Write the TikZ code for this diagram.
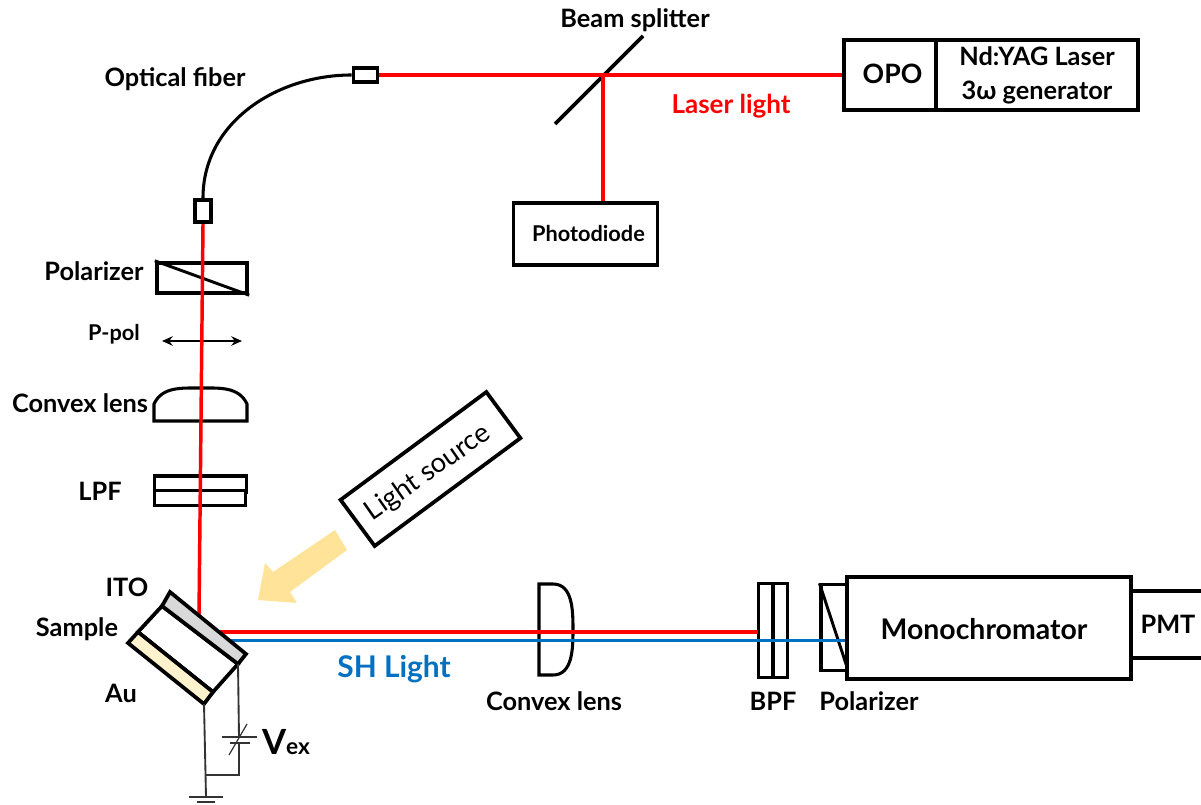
\documentclass[tikz,border=0pt]{standalone}
\usepackage{fontspec}
\setmainfont{Lato}
\usepackage{xcolor}
\usetikzlibrary{arrows.meta,calc}
\definecolor{sunlight}{HTML}{FFE399}
\definecolor{shblue}{HTML}{0070C0}
\definecolor{itogray}{HTML}{D9D9D9}
\definecolor{aucream}{HTML}{FFF2CC}
\tikzset{
	label text/.style={font=\bfseries\fontsize{19}{21}\selectfont, inner sep=0pt},
	small text/.style={font=\bfseries\fontsize{16.3}{18}\selectfont, inner sep=0pt},
	opt box/.style={draw, line width=2.8pt, inner sep=0pt, fill=white},
	thin box/.style={draw, line width=2.3pt, inner sep=0pt, fill=white},
	red beam/.style={red, line width=2.6pt},
	blue beam/.style={shblue, line width=2.2pt},
	wire/.style={line width=1.4pt, black!80}
}

\begin{document}
\begin{tikzpicture}[x=0.75pt,y=-0.75pt]
	\useasboundingbox (0,0) rectangle (1201,805);

	% Laser head and photodiode
	\node (opo) at (890,75) [opt box, minimum width=69pt, minimum height=53pt] {};
	\node (yag) at (1037,75) [opt box, minimum width=151.5pt, minimum height=53pt, align=center, font=\bfseries\fontsize{19}{25.5}\selectfont] {Nd:YAG Laser\\3ω generator};
	\node (photodiode) at (585.5,234) [opt box, minimum width=108pt, minimum height=46pt] {};

	% Fiber couplers
	\node (fiberA) at (365.5,75) [opt box, minimum width=18pt, minimum height=10pt] {};
	\node (fiberB) at (203,211) [opt box, minimum width=12pt, minimum height=17pt] {};
	\draw[line width=2.3pt] (fiberA.west) to[out=180,in=90] (fiberB.north);

	% Beam splitter
	\coordinate (splitA) at (555,124);
	\coordinate (splitB) at (643,36);
	\coordinate (split) at (603,76);
	\draw[line width=2.8pt] (splitA) -- (splitB);

	% Input optics
	\node (polin) at (202,278) [opt box, minimum width=68pt, minimum height=23pt] {};
	\draw[line width=2.2pt] (polin.north west) -- (polin.south east);
	\coordinate (ppolA) at (162,341);
	\coordinate (ppolB) at (242,341);
	\draw[{Stealth[length=8pt,width=7pt]}-{Stealth[length=8pt,width=7pt]}, line width=1.7pt] (ppolA) -- (ppolB);
	\draw[line width=2.3pt] (154,421) -- (154,404) to[out=65,in=180] (200,388) to[out=0,in=115] (247,404) -- (247,421) -- cycle;
	\node (lpfA) at (200.5,484) [thin box, minimum width=69pt, minimum height=12pt] {};
	\node (lpfB) at (200,498) [thin box, minimum width=68pt, minimum height=11pt] {};

	% Output optics
	\draw[line width=2.3pt] (539,584) -- (553,584) to[out=0,in=90] (573,630) to[out=-90,in=0] (553,675) -- (539,675) -- cycle;
	\node (bpfA) at (765.5,630.5) [thin box, minimum width=11pt, minimum height=70pt] {};
	\node (bpfB) at (780.5,630.5) [thin box, minimum width=11pt, minimum height=70pt] {};
	\node (polout) at (834,627.5) [thin box, minimum width=19.5pt, minimum height=64pt] {};
	\draw[line width=2.2pt] (polout.north west) -- (polout.south east);
	\node (mono) at (989,628) [opt box, minimum width=213pt, minimum height=76.5pt] {};
	\coordinate (pmtA) at (1201,591);
	\coordinate (pmtB) at (1201,658);
	\draw[line width=2.8pt] (pmtA) -- (pmtA -| mono.east);
	\draw[line width=2.8pt] (pmtB) -- (pmtB -| mono.east);

	% Beams
	\coordinate (hitV) at (199,615);
	\coordinate (hitR) at (218,632);
	\coordinate (hitB) at (230,640.5);
	\coordinate (endR) at (758,632);
	\coordinate (endB) at (845,640.5);
	\draw[red beam] (opo.west) -- (fiberA.east);
	\draw[red beam] (split) -- (split |- photodiode.north);
	\draw[red beam] (fiberB.south) -- (hitV);
	\draw[red beam] (hitR) -- (endR);
	\draw[blue beam] (hitB) -- (endB);

	% Sample
	\coordinate (itoA) at (170,592);
	\coordinate (itoB) at (246,654);
	\coordinate (itoC) at (238,664);
	\coordinate (itoD) at (162,606);
	\coordinate (auA) at (138,632);
	\coordinate (auB) at (213,692);
	\coordinate (auC) at (204,704);
	\coordinate (auD) at (128,643);
	\draw[line width=2.8pt, fill=white] (itoD) -- (itoC) -- (auB) -- (auA) -- cycle;
	\draw[line width=2.8pt, fill=itogray] (itoA) -- (itoB) -- (itoC) -- (itoD) -- cycle;
	\draw[line width=2.8pt, fill=aucream] (auA) -- (auB) -- (auC) -- (auD) -- cycle;

	% Bias circuit
	\coordinate (gnd) at (206,797);
	\coordinate (join) at (205,775);
	\coordinate (corner) at (239,775);
	\coordinate (capT) at (239,737);
	\coordinate (capB) at (239,743);
	\draw[wire] (auC) -- (gnd);
	\draw[wire] (itoC) -- (capT);
	\draw[wire] (capB) -- (corner) -- (join);
	\draw[wire] (222,737) -- (257,737);
	\draw[wire] (230,743) -- (250,743);
	\draw[line width=0.9pt, black!80] (247,724) -- (229,755);
	\draw[wire] (189,797) -- (223,797);
	\draw[wire] (197,802) -- (215,802);

	% Light source
	\fill[sunlight] (335,530) -- (273,572) -- (265,563) -- (258,600) -- (297,603) -- (290,592) -- (347,550) -- cycle;
	\node (lamp) at (430.5,469) [opt box, rotate=36.5, minimum width=136pt, minimum height=43pt] {};
	\node (lamplabel) at (428,473) [rotate=35, inner sep=0pt, font=\fontsize{20.5}{22}\selectfont] {Light source};

	% Labels
	\node (opolabel) at (892.5,74) [inner sep=0pt, font=\bfseries\fontsize{20}{22}\selectfont] {OPO};
	\node (pdlabel) at (588.5,234) [small text] {Photodiode};
	\node (splitlabel) at (635,20) [label text] {Beam splitter};
	\node (fiberlabel) at (175,79) [label text] {Optical fiber};
	\node (laserlabel) at (731,106) [inner sep=0pt, red, font=\bfseries\fontsize{19.5}{22}\selectfont] {Laser light};
	\node (polinlabel) at (94,271) [label text] {Polarizer};
	\node (ppollabel) at (114,334) [small text] {P-pol};
	\node (lensinlabel) at (80,403) [label text] {Convex lens};
	\node (lpflabel) at (100,491) [label text] {LPF};
	\node (itolabel) at (127,587) [label text] {ITO};
	\node (samplelabel) at (77,629) [label text] {Sample};
	\node (aulabel) at (121,693) [label text] {Au};
	\node (vexlabel) at (286,742) [inner sep=0pt, font=\bfseries\fontsize{17}{20}\selectfont] {{\fontsize{26}{28}\selectfont V}ex};
	\node (shlabel) at (394,669) [inner sep=0pt, shblue, font=\bfseries\fontsize{22.4}{24}\selectfont] {SH Light};
	\node (lensoutlabel) at (554,701) [label text] {Convex lens};
	\node (bpflabel) at (773,701) [label text] {BPF};
	\node (poloutlabel) at (869,701) [label text] {Polarizer};
	\node (monolabel) at (984,629) [inner sep=0pt, font=\bfseries\fontsize{21.3}{24}\selectfont] {Monochromator};
	\node (pmtlabel) at (1168,624) [inner sep=0pt, font=\bfseries\fontsize{19}{22}\selectfont] {PMT};
\end{tikzpicture}
\end{document}
